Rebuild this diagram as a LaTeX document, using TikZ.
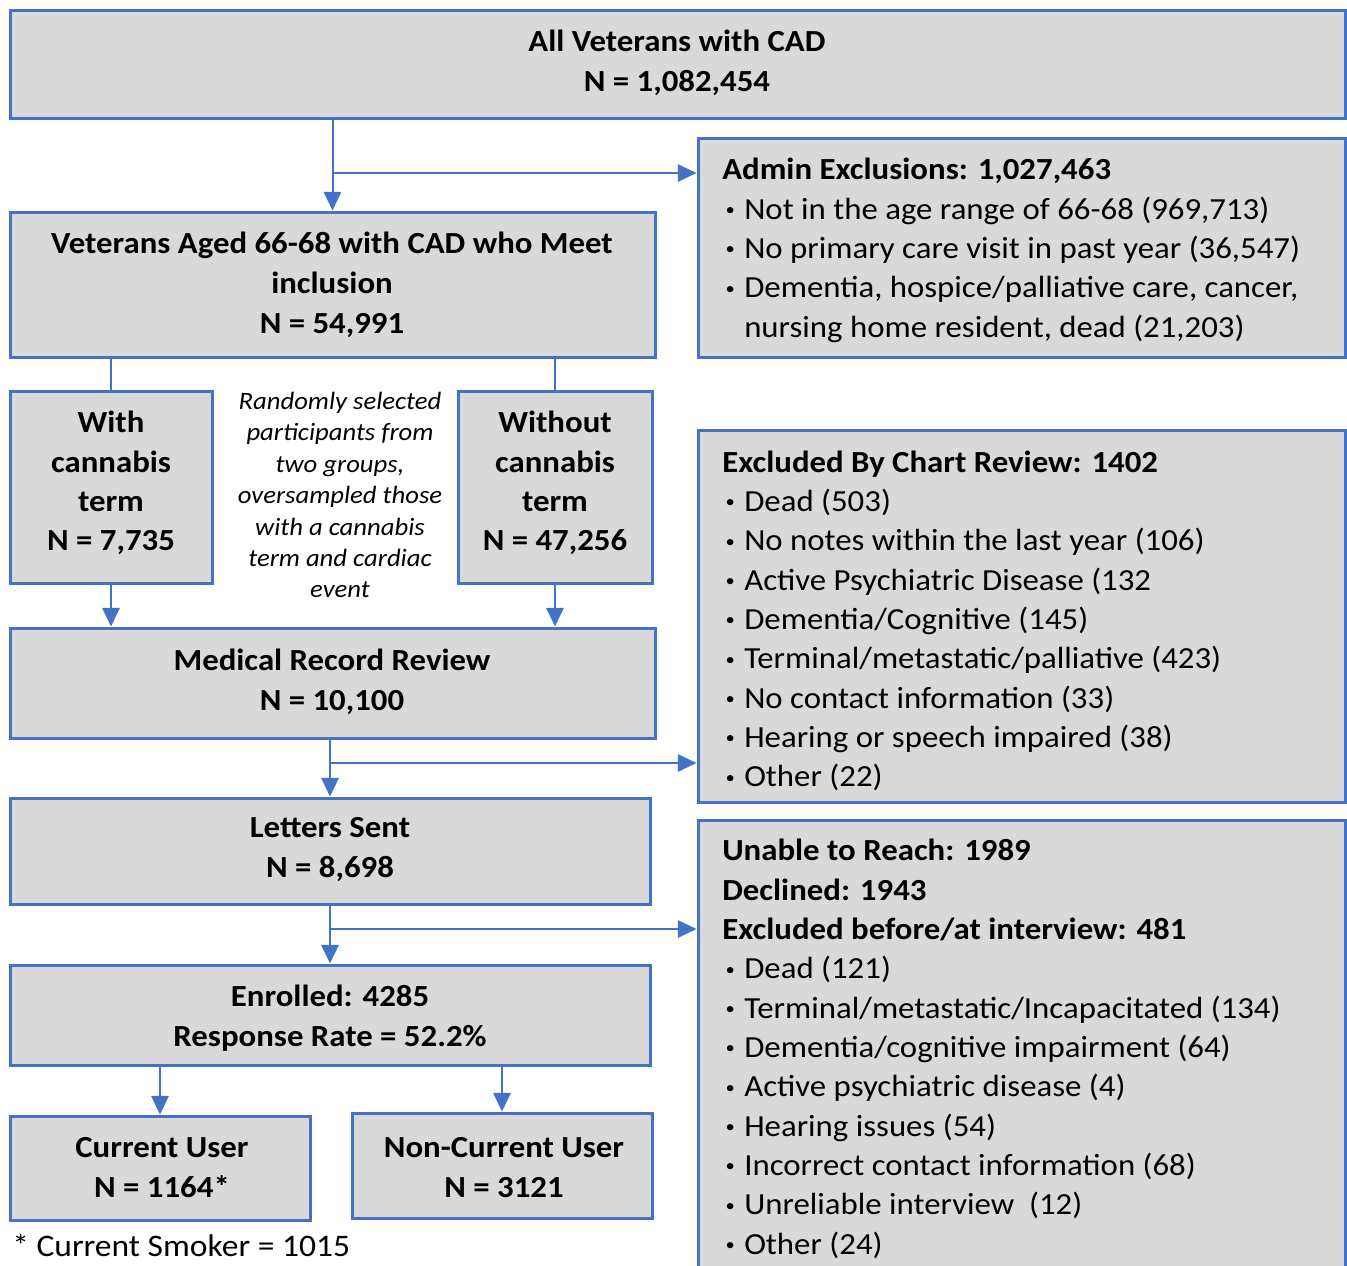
\documentclass[tikz,border=0pt]{standalone}
\usepackage{fontspec}
\setmainfont[FakeStretch=1.07]{Carlito}
\usetikzlibrary{fit,arrows.meta,calc}
\definecolor{bblue}{RGB}{68,114,196}
\definecolor{bgray}{RGB}{217,217,217}
\newcommand{\bul}{\makebox[16.5pt][l]{\hspace{2.5pt}\raisebox{0.12em}{\fontsize{13pt}{13pt}\selectfont•}}}
\begin{document}
\begin{tikzpicture}[x=0.75pt,y=-0.75pt,
 box/.style={draw=bblue, fill=bgray, line width=2.25pt, inner sep=0pt},
 conn/.style={draw=bblue, line width=1.5pt},
 arr/.style={conn, -{Triangle[length=14pt,width=13pt]}},
 ttl/.style={font=\fontsize{23pt}{30pt}\selectfont\bfseries, align=center, inner sep=0pt},
 lst/.style={font=\fontsize{23pt}{29.5pt}\selectfont, align=left, anchor=west, inner sep=0pt},
 itl/.style={font=\fontsize{18.7pt}{23.6pt}\selectfont\itshape, align=center, inner sep=0pt},
]
\useasboundingbox (0,0) rectangle (1347,1265);
\clip (0,0) rectangle (1347,1265);
\fill[white] (0,0) rectangle (1347,1265);
% boxes
\node[box, fit={(10,10)(1345,118)}] (all) {};
\node[box, fit={(10,212)(655,357)}] (vets) {};
\node[box, fit={(698,138)(1345,357)}] (admin) {};
\node[box, fit={(10,391)(212,583)}] (with) {};
\node[box, fit={(458,391)(652,583)}] (without) {};
\node[box, fit={(10,628)(655,738)}] (mrr) {};
\node[box, fit={(698,430)(1345,802)}] (chart) {};
\node[box, fit={(10,798)(650,904)}] (letters) {};
\node[box, fit={(698,820)(1345,1290)}] (unable) {};
\node[box, fit={(10,965)(650,1065)}] (enrolled) {};
\node[box, fit={(10,1116)(310,1220)}] (current) {};
\node[box, fit={(352,1113)(652,1218)}] (noncur) {};
% texts
\node[ttl] (tall) at (677,63) {All Veterans with CAD\\N = 1,082,454};
\node[ttl] (tvets) at (332,285) {Veterans Aged 66-68 with CAD who Meet\\inclusion\\N = 54,991};
\node[lst] (tadmin) at (722,250.5) {\textbf{Admin Exclusions: 1,027,463}\\
\bul Not in the age range of 66-68 (969,713)\\
\bul No primary care visit in past year (36,547)\\
\bul Dementia, hospice/palliative care, cancer,\\
\hspace{16.5pt}nursing home resident, dead (21,203)};
\node[ttl, font=\fontsize{23pt}{29.5pt}\selectfont\bfseries] (twith) at (111,483) {With\\cannabis\\term\\N = 7,735};
\node[ttl, font=\fontsize{23pt}{29.5pt}\selectfont\bfseries] (twithout) at (555,483) {Without\\cannabis\\term\\N = 47,256};
\node[itl] (tnote) at (340,495) {Randomly selected\\participants from\\two groups,\\oversampled those\\with a cannabis\\term and cardiac\\event};
\node[ttl] (tmrr) at (332,682) {Medical Record Review\\N = 10,100};
\node[lst] (tchart) at (722,621) {\textbf{Excluded By Chart Review: 1402}\\
\bul Dead (503)\\
\bul No notes within the last year (106)\\
\bul Active Psychiatric Disease (132\\
\bul Dementia/Cognitive (145)\\
\bul Terminal/metastatic/palliative (423)\\
\bul No contact information (33)\\
\bul Hearing or speech impaired (38)\\
\bul Other (22)};
\node[ttl] (tletters) at (330,850) {Letters Sent\\N = 8,698};
\node[lst] (tunable) at (722,1049) {\textbf{Unable to Reach: 1989}\\
\textbf{Declined: 1943}\\
\textbf{Excluded before/at interview: 481}\\
\bul Dead (121)\\
\bul Terminal/metastatic/Incapacitated (134)\\
\bul Dementia/cognitive impairment (64)\\
\bul Active psychiatric disease (4)\\
\bul Hearing issues (54)\\
\bul Incorrect contact information (68)\\
\bul Unreliable interview\ \ (12)\\
\bul Other (24)};
\node[ttl] (tenrolled) at (330,1018) {Enrolled: 4285\\Response Rate = 52.2\%};
\node[ttl] (tcurrent) at (162,1168) {Current User\\N = 1164*};
\node[ttl] (tnoncur) at (504,1168) {Non-Current User\\N = 3121};
\node[lst, font=\fontsize{23.5pt}{29.5pt}\selectfont] (tfoot) at (12,1245) {* Current Smoker = 1015};
% connectors
\draw[arr] (all.south -| vets.north) -- (vets.north);
\coordinate (j1) at (332,173);
\draw[arr] (j1) -- (j1 -| admin.west);
\draw[conn] (vets.south -| with.north) -- (with.north);
\draw[conn] (vets.south -| without.north) -- (without.north);
\draw[arr] (with.south) -- (with.south |- mrr.north);
\draw[arr] (without.south) -- (without.south |- mrr.north);
\draw[arr] (mrr.south -| letters.north) -- (letters.north);
\coordinate (j2) at (330,763);
\draw[arr] (j2) -- (j2 -| chart.west);
\draw[arr] (letters.south) -- (enrolled.north);
\coordinate (j3) at (330,929);
\draw[arr] (j3) -- (j3 -| unable.west);
\draw[arr] (enrolled.south -| current.north) -- (current.north);
\draw[arr] (enrolled.south -| noncur.north) -- (noncur.north);
\end{tikzpicture}
\end{document}
